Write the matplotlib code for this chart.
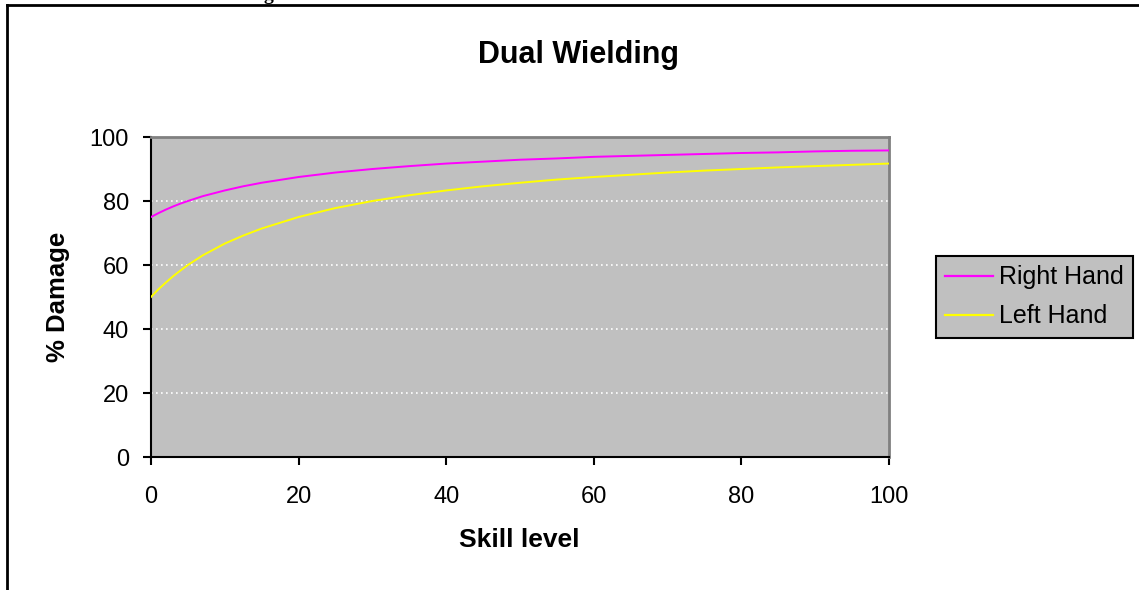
import matplotlib
matplotlib.use("Agg")
import matplotlib.pyplot as plt
from matplotlib.lines import Line2D

skill = [0, 1, 2, 3, 4, 5, 7, 10, 12.5, 15, 20, 25, 30, 35, 40, 45, 50, 55, 60, 65, 70, 75, 80, 85, 90, 95, 100]
right_hand = [75, 76.2, 77.3, 78.3, 79.2, 80, 81.5, 83.3, 84.6, 85.7, 87.5, 88.9, 90, 90.9, 91.7, 92.3, 92.9, 93.3, 93.8, 94.1, 94.4, 94.7, 95, 95.2, 95.5, 95.7, 95.8]
left_hand = [50, 52.4, 54.5, 56.5, 58.3, 60, 63, 66.7, 69.2, 71.4, 75, 77.8, 80, 81.8, 83.3, 84.6, 85.7, 86.7, 87.5, 88.2, 88.9, 89.5, 90, 90.5, 90.9, 91.3, 91.7]
yticks = [0, 20, 40, 60, 80, 100]
xticks = [0, 20, 40, 60, 80, 100]

W, H = 1139, 590
fig = plt.figure(figsize=(W / 100, H / 100), dpi=100)
fig.patch.set_facecolor("white")

# plot area: x 151..889, y 137..457 (pixels from top)
x0, x1, yt, yb = 151, 889, 137, 457
ax = fig.add_axes([x0 / W, 1 - yb / H, (x1 - x0) / W, (yb - yt) / H])
ax.set_facecolor("#C0C0C0")
ax.set_xlim(0, 100)
ax.set_ylim(0, 100)

for g in [20, 40, 60, 80]:
    ax.axhline(g, color="white", lw=1.2, ls=(0, (1, 2)), zorder=1)

ax.plot(skill, right_hand, color="#FF00FF", lw=1.4, zorder=3, label="Right Hand")
ax.plot(skill, left_hand, color="#FFFF00", lw=1.4, zorder=3, label="Left Hand")

for s in ["top", "right"]:
    ax.spines[s].set_color("#808080")
    ax.spines[s].set_linewidth(2)
for s in ["left", "bottom"]:
    ax.spines[s].set_color("black")
    ax.spines[s].set_linewidth(1.5)

ax.set_xticks(xticks)
ax.set_yticks(yticks)
ax.tick_params(axis="both", direction="out", length=6, width=1.5, color="black",
               labelsize=17)
ax.tick_params(axis="x", pad=15)
ax.tick_params(axis="y", pad=10)
ax.set_xticklabels([str(v) for v in xticks], fontfamily="Liberation Sans")
ax.set_yticklabels([str(v) for v in yticks], fontfamily="Liberation Sans")

fig.text(578 / W, 1 - 55 / H, "Dual Wielding", ha="center", va="center",
         fontsize=22, fontweight="bold", fontfamily="Liberation Sans")
fig.text(519 / W, 1 - 540 / H, "Skill level", ha="center", va="center",
         fontsize=19, fontweight="bold", fontfamily="Liberation Sans")
fig.text(58 / W, 1 - 297 / H, "% Damage", ha="center", va="center", rotation=90,
         fontsize=18.5, fontweight="bold", fontfamily="Liberation Sans")

handles = [Line2D([], [], color="#FF00FF", lw=1.6), Line2D([], [], color="#FFFF00", lw=1.6)]
leg = fig.legend(handles, ["Right Hand", "Left Hand"], loc="center",
                 bbox_to_anchor=(1034.5 / W, 1 - 297 / H), frameon=True, fancybox=False,
                 prop={"family": "Liberation Sans", "size": 18}, handlelength=1.9,
                 handletextpad=0.25, borderpad=0.38, labelspacing=0.6, borderaxespad=0)
leg.get_frame().set_facecolor("#C0C0C0")
leg.get_frame().set_edgecolor("black")
leg.get_frame().set_linewidth(1.5)
leg.get_frame().set_alpha(1)

# outer frame lines (left and top)
fig.add_artist(Line2D([7 / W, 7 / W], [0, 1 - 5 / H], color="black", lw=2, transform=fig.transFigure))
fig.add_artist(Line2D([7 / W, 1], [1 - 5 / H, 1 - 5 / H], color="black", lw=2, transform=fig.transFigure))
# clipped text fragment at the very top (only its descender shows)
fig.text(268 / W, 1.0, "g", ha="center", va="baseline", fontsize=14,
         fontweight="bold", fontfamily="Liberation Serif")

fig.savefig("out.png", dpi=100)
